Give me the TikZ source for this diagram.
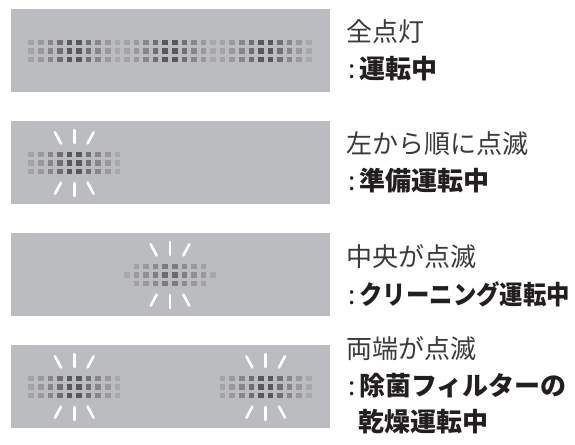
\documentclass[tikz,border=0pt]{standalone}
\usepackage{fontspec}
\newfontfamily\jp{Noto Sans CJK JP}
\definecolor{panelgray}{HTML}{BBBCC0}
\definecolor{textdark}{HTML}{3A3A3A}
\definecolor{textbold}{HTML}{231F20}

% one block of 10x3 lamps, centred at (#1,#2)
\newcommand{\ledgroup}[2]{%
  \foreach \k/\shade in {0/36,1/40,2/47,3/56,4/65,5/65,6/56,7/47,8/40,9/34}
    \foreach \r in {-1,0,1}
      \fill[black!\shade] ({#1+(\k-4.5)*9.57-2.8},{#2+\r*8.5-2.8}) rectangle ++(5.6,5.6);
}
% white flash strokes above and below (#1,#2)
\newcommand{\flashrays}[2]{%
  \foreach \sy in {-1,1} {
    \draw[ray] (#1,{#2+\sy*20}) -- (#1,{#2+\sy*33});
    \draw[ray] ({#1-13.3},{#2+\sy*19.5}) -- ({#1-19.3},{#2+\sy*30.7});
    \draw[ray] ({#1+13.3},{#2+\sy*19.5}) -- ({#1+19.3},{#2+\sy*30.7});
  }
}

\tikzset{
  ray/.style={white, line width=2.6pt, line cap=round},
  panel/.style={fill=panelgray},
  state/.style={anchor=west, inner sep=0pt, text=textdark, font=\jp\fontsize{26}{30}\selectfont},
  mode/.style={anchor=west, inner sep=0pt, text=textbold, font=\jp\fontsize{26}{30}\selectfont}
}

\begin{document}
\begin{tikzpicture}[x=1pt, y=-1pt]
  \useasboundingbox (0,0) rectangle (575,444);

  % Panels
  \foreach \top in {9,121,233,345}
    \fill[panel] (11,\top) rectangle (330,\top+83);

  % All lamps on
  \foreach \cx in {74.3,170,265.7}
    \ledgroup{\cx}{51};

  % Left block flashing
  \ledgroup{74.3}{163};
  \flashrays{74.3}{163}

  % Centre flashing (lighter, tapered)
  \foreach \k/\shade in {0/34,1/40,2/44,3/50,4/58,5/58,6/50,7/44,8/40,9/34}
    \fill[black!\shade] ({170+(\k-4.5)*9.57-2.8},{275-2.8}) rectangle ++(5.6,5.6);
  \foreach \k/\shade in {1/37,2/40,3/45,4/51,5/51,6/45,7/40,8/37}
    \foreach \r in {-1,1}
      \fill[black!\shade] ({170+(\k-4.5)*9.57-2.8},{275+\r*8.5-2.8}) rectangle ++(5.6,5.6);
  \flashrays{170}{275}

  % Both ends flashing
  \ledgroup{74.3}{387};
  \ledgroup{265.7}{387};
  \flashrays{74.3}{387}
  \flashrays{265.7}{387}

  % Labels
  \node[state] (all) at (346,32) {全点灯};
  \node[mode] (allm) at (346,69) {\hspace*{2.5pt}{\mdseries :}\hspace{3.5pt}\textbf{運転中}};

  \node[state] (left) at (346,144) {左から順に点滅};
  \node[mode] (leftm) at (346,181) {\hspace*{2.5pt}{\mdseries :}\hspace{3.5pt}\textbf{準備運転中}};

  \node[state] (mid) at (346,257) {中央が点滅};
  \node[mode] (midm) at (346,294) {\hspace*{2.5pt}{\mdseries :}\hspace{3.5pt}\scalebox{0.9}[1]{\textbf{クリーニング運転中}}};

  \node[state] (ends) at (346,349) {両端が点滅};
  \node[mode] (endsm) at (346,386) {\hspace*{2.5pt}{\mdseries :}\hspace{3.5pt}\textbf{除菌フィルターの}};
  \node[mode] (endsn) at (358,422) {\textbf{乾燥運転中}};
\end{tikzpicture}
\end{document}
